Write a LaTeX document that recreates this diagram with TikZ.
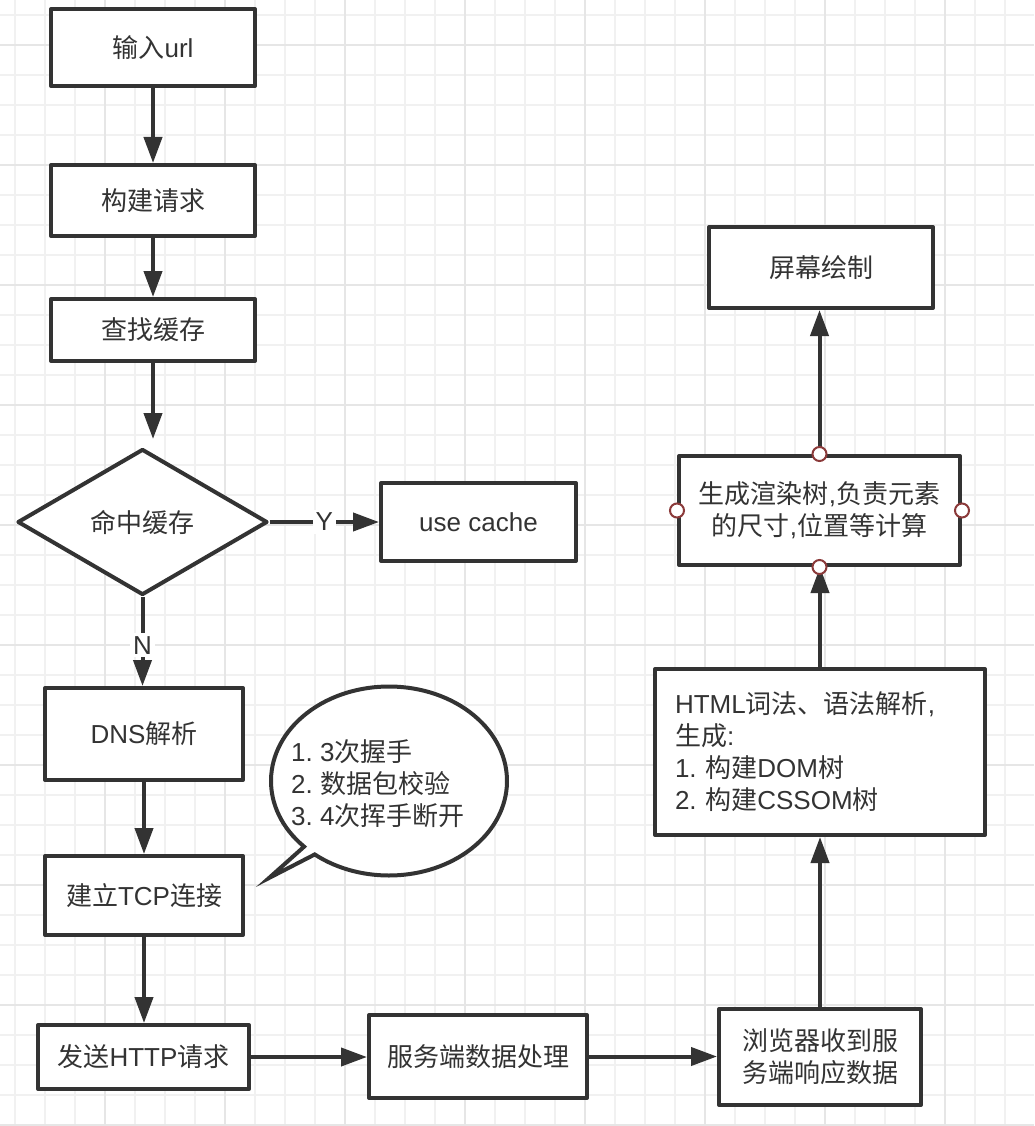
\documentclass[tikz,border=0pt]{standalone}
\usepackage{fontspec}
\setmainfont{Liberation Sans}
\newfontfamily\cjk{Noto Sans CJK SC}
\usetikzlibrary{arrows.meta,shapes.geometric,calc}
\definecolor{ink}{HTML}{333333}
\definecolor{portred}{HTML}{8B3A3A}
\definecolor{gridminor}{HTML}{F1F1F1}
\definecolor{gridmajor}{HTML}{E6E6E6}
\newcommand\zhs[1]{{\cjk #1}}
\newcommand\fsz{\fontsize{26}{32}\selectfont}
\frenchspacing
\begin{document}
\begin{tikzpicture}[x=1pt,y=-1pt,
  box/.style={rectangle, draw=ink, line width=4pt, line join=round, fill=white, inner sep=0pt, text=ink, align=center, font=\fsz},
  decide/.style={diamond, aspect=1.7, draw=ink, line width=4pt, line join=round, fill=white, inner sep=0pt, text=ink, font=\fsz, minimum width=250pt, minimum height=146pt},
  arr/.style={draw=ink, line width=4pt, -{Triangle[length=26pt,width=18pt]}},
  lbl/.style={fill=white, inner sep=3pt, text=ink, font=\fsz},
  port/.style={circle, draw=portred, fill=white, line width=2pt, minimum size=14pt, inner sep=0pt},
  gmin/.style={draw=gridminor, line width=1.6pt},
  gmaj/.style={draw=gridmajor, line width=1.8pt}
]
\useasboundingbox (0,0) rectangle (1034,1126);
\fill[white] (0,0) rectangle (1034,1126);
% grid
\foreach \g in {15,45,...,1034} \draw[gmin] (\g,0) -- (\g,1126);
\foreach \g in {15,45,...,1126} \draw[gmin] (0,\g) -- (1034,\g);
\foreach \g in {105,225,...,1034} \draw[gmaj] (\g,0) -- (\g,1126);
\foreach \g in {45,165,...,1126} \draw[gmaj] (0,\g) -- (1034,\g);

% left column
\node[box, minimum width=204pt, minimum height=77pt] (url) at (153,47.5) {\zhs{输入}url};
\node[box, minimum width=204pt, minimum height=71pt] (req) at (153,200.5) {\zhs{构建请求}};
\node[box, minimum width=204pt, minimum height=62pt] (find) at (153,330) {\zhs{查找缓存}};
\node[decide] (dia) at (142.5,522) {\zhs{命中缓存}};
\node[box, minimum width=195pt, minimum height=78pt] (cache) at (478.5,522) {use cache};
\node[box, minimum width=198pt, minimum height=92pt] (dns) at (144,734) {DNS\zhs{解析}};
\node[box, minimum width=198pt, minimum height=79pt] (tcp) at (144,895.5) {\zhs{建立}TCP\zhs{连接}};
\node[box, minimum width=211pt, minimum height=64pt] (http) at (143.5,1057) {\zhs{发送}HTTP\zhs{请求}};
% bottom row
\node[box, minimum width=218pt, minimum height=83pt] (srv) at (478,1056.5) {\zhs{服务端数据处理}};
\node[box, minimum width=202pt, minimum height=96pt] (brw) at (820,1057) {\zhs{浏览器收到服}\\\zhs{务端响应数据}};
% right column
\node[box, minimum width=330pt, minimum height=166pt, text width=290pt, align=left] (html) at (820,752)
  {HTML\zhs{词法、语法解析},\\\zhs{生成}:\\1. \zhs{构建}DOM\zhs{树}\\2. \zhs{构建}CSSOM\zhs{树}};
\node[box, minimum width=281pt, minimum height=109pt] (gen) at (819.5,510.5) {\zhs{生成渲染树},\zhs{负责元素}\\\zhs{的尺寸},\zhs{位置等计算}};
\node[box, minimum width=224pt, minimum height=81pt] (scr) at (821,267.5) {\zhs{屏幕绘制}};

% callout bubble
\coordinate (bc) at (389,781);
\coordinate (tailtip) at (269,878);
\draw[ink, line width=4pt, line join=miter, fill=white]
  ([shift={(136:118 and 94.5)}]bc) arc[start angle=136, end angle=489, x radius=118, y radius=94.5]
  -- (tailtip) -- cycle;
\node[anchor=west, align=left, text=ink, font=\fsz, inner sep=0pt] (note) at (291,784)
  {1. 3\zhs{次握手}\\2. \zhs{数据包校验}\\3. 4\zhs{次挥手断开}};

% connectors
\draw[arr] (url.south) -- (url.south |- req.north);
\draw[arr] (req.south) -- (req.south |- find.north);
\draw[arr, shorten >=8pt] (find.south) -- (find.south |- dia.north);
\draw[arr] (dia.east) -- node[lbl]{Y} (cache.west);
\draw[arr] (dia.south) -- node[lbl, pos=0.54]{N} (dia.south |- dns.north);
\draw[arr] (dns.south) -- (dns.south |- tcp.north);
\draw[arr] (tcp.south) -- (tcp.south |- http.north);
\draw[arr] (http.east) -- (http.east -| srv.west);
\draw[arr] (srv.east) -- (srv.east -| brw.west);
\draw[arr] (brw.north) -- (brw.north |- html.south);
\draw[arr] (html.north) -- (html.north |- gen.south);
\draw[arr] (gen.north) -- (gen.north |- scr.south);

% ports
\node[port] (pn) at (gen.north) {};
\node[port] (ps) at (gen.south) {};
\node[port] (pw) at (gen.west) {};
\node[port] (pe) at (gen.east) {};
\end{tikzpicture}
\end{document}
